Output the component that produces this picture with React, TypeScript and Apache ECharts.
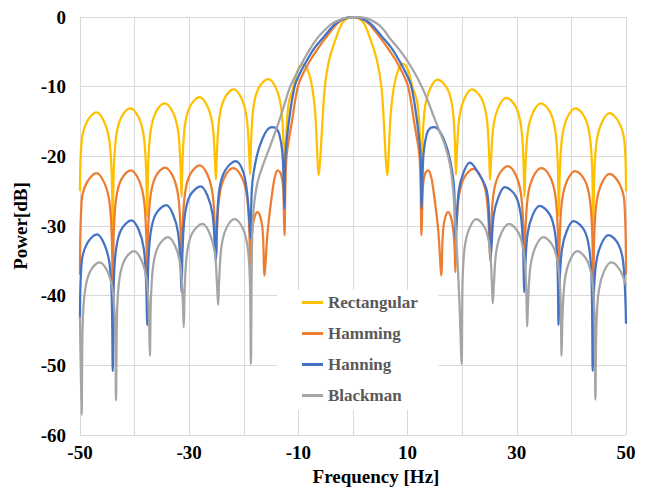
import React, { useEffect, useRef } from "react";
import * as echarts from "echarts";

const seriesNames = ["Rectangular", "Hamming", "Hanning", "Blackman"];
const seriesColors = ["#FFC000", "#ED7D31", "#4472C4", "#A5A5A5"];
const xTickLabels = ["-50", "-30", "-10", "10", "30", "50"];
const yTickLabels = ["0", "-10", "-20", "-30", "-40", "-50", "-60"];

const rectangular: [number, number][] = [
  [-50, -25], [-49.7, -17.8], [-48.7, -15.0], [-47.0, -13.7], [-45.6, -15.0], [-44.63, -17.7], [-44.19, -22.6], [-44.0, -30.5],
  [-43.81, -22.0], [-43.37, -17.1], [-42.43, -14.4], [-40.8, -13.1], [-39.27, -14.4], [-38.33, -17.1], [-37.89, -22.0], [-37.7, -28.6],
  [-37.51, -21.3], [-37.07, -16.4], [-36.13, -13.7], [-34.5, -12.4], [-32.97, -13.7], [-32.03, -16.4], [-31.59, -21.3], [-31.4, -25.8],
  [-31.21, -20.4], [-30.77, -15.5], [-29.83, -12.8], [-28.15, -11.5], [-26.67, -12.8], [-25.73, -15.5], [-25.29, -20.4], [-25.1, -23.3],
  [-24.91, -19.3], [-24.47, -14.4], [-23.53, -11.7], [-21.9, -10.4], [-20.42, -11.7], [-19.48, -14.4], [-19.04, -19.3], [-18.85, -22.6],
  [-18.66, -17.8], [-18.22, -12.9], [-17.28, -10.2], [-15.5, -8.9], [-14.12, -10.2], [-13.18, -12.9], [-12.74, -17.8], [-12.55, -26],
  [-12.3, -18], [-11.8, -12.5], [-10.9, -10.0], [-10.1, -7.6], [-9.2, -6.8], [-8.3, -7.6], [-7.5, -10.0], [-6.9, -14], [-6.25, -22.7],
  [-6.0, -20.3], [-5.6, -15.1], [-5.15, -10], [-4.35, -6.1], [-3.1, -3.0], [-2.0, -0.9], [-1.0, -0.2],
  [0, 0], [1.0, -0.2], [2.0, -0.9], [3.1, -3.0], [4.35, -6.1], [5.2, -10], [5.65, -15.1], [6.0, -20.3], [6.25, -22.7],
  [6.9, -14], [7.5, -10.0], [8.3, -7.6], [9.1, -6.7], [10.0, -7.5], [10.85, -9.9], [11.8, -12.4], [12.3, -18], [12.55, -26],
  [12.74, -17.9], [13.18, -13.0], [14.12, -10.3], [15.5, -9.0], [17.28, -10.3], [18.22, -13.0], [18.66, -17.9], [18.85, -22.6],
  [19.04, -19.3], [19.48, -14.4], [20.42, -11.7], [21.8, -10.4], [23.53, -11.7], [24.47, -14.4], [24.91, -19.3], [25.1, -23.4],
  [25.29, -20.5], [25.73, -15.6], [26.67, -12.9], [28.1, -11.6], [29.83, -12.9], [30.77, -15.6], [31.21, -20.5], [31.4, -25.8],
  [31.59, -21.3], [32.03, -16.4], [32.97, -13.7], [34.45, -12.4], [36.13, -13.7], [37.07, -16.4], [37.51, -21.3], [37.7, -28.6],
  [37.89, -22.0], [38.33, -17.1], [39.27, -14.4], [40.75, -13.1], [42.43, -14.4], [43.37, -17.1], [43.81, -22.0], [44.0, -30.5],
  [44.19, -22.7], [44.63, -17.8], [45.6, -15.1], [47.0, -13.8], [48.7, -15.1], [49.7, -17.8], [50, -25],
];

const hamming: [number, number][] = [
  [-50, -37], [-49.7, -26.4], [-48.7, -23.7], [-47.0, -22.4], [-45.6, -23.7], [-44.63, -26.4], [-44.19, -31.3], [-44.0, -38.5],
  [-43.81, -30.9], [-43.37, -26.0], [-42.43, -23.3], [-40.7, -22.0], [-39.27, -23.3], [-38.33, -26.0], [-37.89, -30.9], [-37.7, -37.3],
  [-37.51, -30.5], [-37.07, -25.6], [-36.13, -22.9], [-34.45, -21.6], [-32.97, -22.9], [-32.03, -25.6], [-31.59, -30.5], [-31.4, -35.2],
  [-31.21, -30.2], [-30.77, -25.3], [-29.83, -22.6], [-28.1, -21.3], [-26.67, -22.6], [-25.73, -25.3], [-25.29, -30.2], [-25.1, -34.5],
  [-24.91, -30.6], [-24.47, -25.7], [-23.53, -23.0], [-21.95, -21.7], [-20.37, -23.0], [-19.43, -25.7], [-18.99, -30.6], [-18.8, -36.6],
  [-18.65, -33], [-18.4, -30.2], [-18.0, -28.6], [-17.5, -28.0], [-17.0, -28.6], [-16.6, -30.2], [-16.4, -33], [-16.25, -37.1],
  [-15.6, -30.5], [-14.65, -24.4], [-14.2, -22.6], [-13.8, -22.0], [-13.2, -22.5], [-12.8, -24.4], [-12.55, -31.3],
  [-12.2, -20.3], [-11.2, -15.1], [-10.1, -10], [-9.0, -7.9], [-7.75, -6.1], [-6.4, -4.5], [-5.0, -3.0],
  [-2.9, -0.95], [-1.5, -0.25], [0, 0], [1.5, -0.25], [2.9, -0.95], [5.0, -3.0], [6.4, -4.5], [7.75, -6.1],
  [9.0, -7.9], [10.1, -10], [11.2, -15.1], [12.2, -20.3], [12.55, -31.3],
  [12.8, -24.4], [13.2, -22.5], [13.75, -22.0], [14.2, -22.6], [14.65, -24.4], [15.6, -30.5], [16.2, -37.1],
  [16.35, -33], [16.55, -30.2], [16.95, -28.6], [17.4, -28.0], [17.9, -28.6], [18.3, -30.2], [18.6, -33], [18.75, -36.6],
  [18.94, -30.7], [19.38, -25.8], [20.33, -23.1], [22.05, -21.8], [23.53, -23.1], [24.47, -25.8], [24.91, -30.7], [25.1, -34.5],
  [25.29, -30.3], [25.73, -25.4], [26.67, -22.7], [28.35, -21.4], [29.83, -22.7], [30.77, -25.4], [31.21, -30.3], [31.4, -35.2],
  [31.59, -30.6], [32.03, -25.7], [32.97, -23.0], [34.5, -21.7], [36.13, -23.0], [37.07, -25.7], [37.51, -30.6], [37.7, -37.3],
  [37.89, -31.0], [38.33, -26.1], [39.27, -23.4], [40.7, -22.1], [42.43, -23.4], [43.37, -26.1], [43.81, -31.0], [44.0, -38.5],
  [44.19, -31.4], [44.63, -26.5], [45.6, -23.8], [47.0, -22.5], [48.7, -23.8], [49.7, -26.5], [50, -37],
];

const hanning: [number, number][] = [
  [-50, -43.5], [-49.7, -35.2], [-48.7, -32.5], [-46.9, -31.2], [-45.6, -32.5], [-44.63, -35.2], [-44.19, -40.1], [-44.0, -50.8],
  [-43.81, -38.1], [-43.37, -33.2], [-42.43, -30.5], [-40.6, -29.2], [-39.27, -30.5], [-38.33, -33.2], [-37.89, -38.1], [-37.7, -44.2],
  [-37.51, -35.9], [-37.07, -31.0], [-36.13, -28.3], [-34.2, -27.0], [-32.97, -28.3], [-32.03, -31.0], [-31.59, -35.9], [-31.4, -39.5],
  [-31.21, -33.2], [-30.77, -28.3], [-29.83, -25.6], [-27.9, -24.3], [-26.67, -25.6], [-25.73, -28.3], [-25.29, -33.0], [-25.1, -35.0],
  [-24.91, -29.6], [-24.47, -24.7], [-23.4, -22.0], [-21.5, -20.7], [-20.2, -22.0], [-19.5, -24.6], [-18.99, -29], [-18.8, -31.7],
  [-18.55, -25], [-18.2, -22.3], [-17.4, -19.3], [-16.6, -17.5], [-15.8, -16.3], [-14.9, -15.8], [-14.2, -15.9], [-13.5, -16.8],
  [-12.9, -19.8], [-12.55, -27.5],
  [-12.4, -20.3], [-11.75, -15.1], [-10.7, -10], [-9.6, -7.9], [-8.35, -6.1], [-7.0, -4.4], [-5.5, -3.0],
  [-3.2, -0.95], [-1.5, -0.2], [0, 0], [1.5, -0.2], [3.2, -0.95], [5.5, -3.0], [7.0, -4.4], [8.35, -6.1],
  [9.6, -7.9], [10.7, -10], [11.75, -15.1], [12.4, -20.3], [12.55, -27.5],
  [12.9, -19.8], [13.5, -16.8], [14.2, -15.9], [14.9, -15.8], [15.8, -16.3], [16.6, -17.5], [17.4, -19.3],
  [18.2, -22.3], [18.55, -25], [18.75, -31.7],
  [18.94, -29.8], [19.38, -24.9], [20.3, -22.2], [21.4, -20.9], [22.8, -22.2], [24.5, -24.9], [24.96, -29.8], [25.15, -35.0],
  [25.34, -33.3], [25.78, -28.4], [26.7, -25.7], [27.8, -24.4], [29.8, -25.7], [30.73, -28.4], [31.16, -33.3], [31.35, -39.5],
  [31.54, -36.0], [31.98, -31.1], [32.92, -28.4], [34.2, -27.1], [36.08, -28.4], [37.02, -31.1], [37.46, -36.0], [37.65, -44.2],
  [37.84, -38.2], [38.28, -33.3], [39.2, -30.6], [40.4, -29.3], [42.35, -30.6], [43.28, -33.3], [43.71, -38.2], [43.9, -50.8],
  [44.09, -40.2], [44.53, -35.3], [45.47, -32.6], [46.8, -31.3], [48.6, -32.6], [49.5, -35.3], [50, -44],
];

const blackman: [number, number][] = [
  [-50, -43], [-49.7, -57.1],
  [-49.51, -44.1], [-49.07, -39.2], [-48.13, -36.5], [-46.45, -35.2], [-44.97, -36.5], [-44.03, -39.2], [-43.59, -44.1], [-43.4, -55.0],
  [-43.21, -42.5], [-42.78, -37.6], [-41.85, -34.9], [-40.15, -33.6], [-38.75, -34.9], [-37.82, -37.6], [-37.39, -42.5], [-37.2, -48.6],
  [-37.01, -40.5], [-36.58, -35.6], [-35.65, -32.9], [-33.9, -31.6], [-32.55, -32.9], [-31.62, -35.6], [-31.19, -40.5], [-31.0, -44.5],
  [-30.81, -38.6], [-30.37, -33.7], [-29.43, -31.0], [-27.6, -29.7], [-26.28, -31.0], [-25.33, -33.7], [-24.89, -38.6], [-24.7, -41.3],
  [-24.52, -37.9], [-24.1, -33.0], [-23.2, -30.3], [-21.7, -29.0], [-20.2, -30.3], [-19.3, -33.0], [-18.88, -37.9], [-18.7, -49.8],
  [-18.5, -33], [-18.2, -27.5], [-17.5, -23.8], [-16.6, -21.5], [-15.7, -19.6], [-14.6, -17.3], [-13.6, -15.1],
  [-12.5, -12.4], [-11.5, -10.0], [-10.2, -7.9], [-9.0, -6.1], [-7.8, -4.5], [-6.6, -3.1], [-5.2, -1.9],
  [-3.85, -0.95], [-2.4, -0.4], [-1.1, -0.1], [0.4, 0], [1.9, -0.1], [3.3, -0.45], [4.7, -1.1], [5.8, -2.0],
  [6.8, -3.1], [8.3, -4.5], [9.8, -6.1], [11.2, -7.9], [12.6, -10.0], [13.7, -12.0], [14.7, -14.1],
  [15.8, -16.3], [16.85, -18.4], [17.8, -21.3], [18.3, -24.5], [18.7, -29], [19.1, -34.5], [19.5, -41], [19.9, -49.8],
  [20.07, -37.9], [20.47, -33.0], [21.33, -30.3], [22.6, -29.0], [24.18, -30.3], [25.03, -33.0], [25.43, -37.9], [25.6, -41.1],
  [25.79, -38.6], [26.23, -33.7], [27.18, -31.0], [28.6, -29.7], [30.33, -31.0], [31.27, -33.7], [31.71, -38.6], [31.9, -44.4],
  [32.09, -40.5], [32.53, -35.6], [33.48, -32.9], [34.9, -31.6], [36.63, -32.9], [37.57, -35.6], [38.01, -40.5], [38.2, -48.6],
  [38.39, -42.5], [38.82, -37.6], [39.75, -34.9], [41.1, -33.6], [42.85, -34.9], [43.78, -37.6], [44.21, -42.5], [44.4, -54.9],
  [44.59, -44.1], [45.03, -39.2], [45.97, -36.5], [47.3, -35.2], [48.8, -36.2], [50, -38.5],
];

const seriesData = [rectangular, hamming, hanning, blackman];

const FONT = "'Liberation Serif', 'Times New Roman', serif";

export default function App() {
  const ref = useRef<HTMLDivElement>(null);

  useEffect(() => {
    if (!ref.current) return;
    const chart = echarts.init(ref.current, undefined, { renderer: "svg" });
    chart.setOption({
      animation: false,
      backgroundColor: "#ffffff",
      grid: { left: 80, right: 26, top: 17, bottom: 50, containLabel: false },
      legend: {
        orient: "vertical",
        left: 277,
        top: 290,
        padding: [4, 21, 6, 25],
        backgroundColor: "#ffffff",
        itemGap: 14,
        itemWidth: 21,
        itemHeight: 3,
        itemTextGap: 2,
        icon: "rect",
        data: seriesNames,
        textStyle: {
          color: "#595959",
          fontSize: 17,
          fontWeight: "bold",
          fontFamily: FONT,
        },
      },
      xAxis: {
        type: "value",
        min: -50,
        max: 50,
        interval: 10,
        name: "Frequency [Hz]",
        nameLocation: "middle",
        nameGap: 29,
        nameTextStyle: {
          color: "#000",
          fontSize: 19,
          fontWeight: "bold",
          fontFamily: FONT,
          padding: [0, 0, 0, 46],
        },
        axisLine: { show: true, lineStyle: { color: "#d9d9d9", width: 1 } },
        axisTick: { show: false },
        splitLine: { show: true, lineStyle: { color: "#d9d9d9", width: 1 } },
        axisLabel: {
          color: "#000",
          fontSize: 19,
          fontWeight: "bold",
          fontFamily: FONT,
          margin: 8,
          showMinLabel: true,
          showMaxLabel: true,
          formatter: (v: number) => (xTickLabels.includes(String(v)) ? String(v) : ""),
        },
      },
      yAxis: {
        type: "value",
        min: -60,
        max: 0,
        interval: 10,
        name: "Power[dB]",
        nameLocation: "middle",
        nameGap: 47,
        nameTextStyle: {
          color: "#000",
          fontSize: 19,
          fontWeight: "bold",
          fontFamily: FONT,
        },
        axisLine: { show: false },
        axisTick: { show: false },
        splitLine: { show: true, lineStyle: { color: "#d9d9d9", width: 1 } },
        axisLabel: {
          color: "#000",
          fontSize: 19,
          fontWeight: "bold",
          fontFamily: FONT,
          margin: 14,
          showMinLabel: true,
          showMaxLabel: true,
          formatter: (v: number) => (yTickLabels.includes(String(v)) ? String(v) : ""),
        },
      },
      series: seriesNames.map((name, i) => ({
        name,
        type: "line",
        data: seriesData[i],
        showSymbol: false,
        symbol: "none",
        smooth: 0.35,
        color: seriesColors[i],
        lineStyle: { color: seriesColors[i], width: 2.25 },
        z: 2 + i,
      })),
    });
    return () => chart.dispose();
  }, []);

  return (
    <div
      ref={ref}
      style={{ position: "fixed", left: 0, top: 0, width: 652, height: 491, background: "#fff" }}
    />
  );
}
